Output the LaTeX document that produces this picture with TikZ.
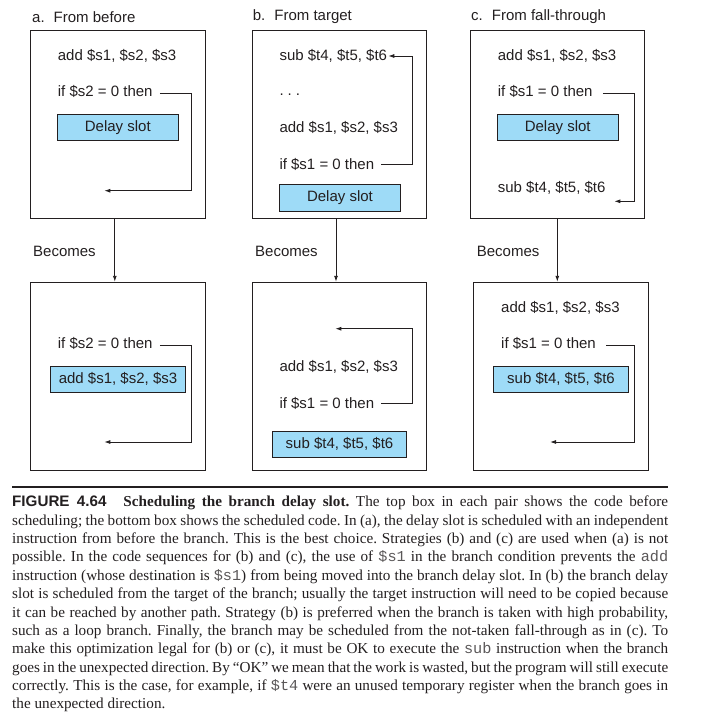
\documentclass[tikz,border=0pt]{standalone}
\usepackage{fontspec}
\setmainfont{Liberation Serif}
\setsansfont{Liberation Sans}
\setmonofont{Liberation Mono}
\usepackage{tikz}
\usetikzlibrary{arrows.meta}

\definecolor{ink}{HTML}{231F20}
\definecolor{slotblue}{RGB}{158,219,247}
\newcommand{\reg}[1]{{\color{ink!75}\texttt{#1}}}

\tikzset{
  code/.style={anchor=west, inner sep=0pt, text=ink, font=\sffamily\fontsize{15}{18}\selectfont},
  frame/.style={draw=ink, line width=1pt, inner sep=0pt},
  slot/.style={draw=ink, line width=1pt, fill=slotblue, inner sep=0pt, text=ink,
    font=\sffamily\fontsize{15}{18}\selectfont},
  back/.style={draw=ink, line width=0.9pt, -{Latex[length=6pt,width=4pt]}},
  rule/.style={draw=ink, line width=1.5pt},
}

\begin{document}
\begin{tikzpicture}[x=1pt, y=-1pt]
\useasboundingbox (0,0) rectangle (705,713);

  % a. From before
  \node[code] (a-title) at (32,16.7) {a.\hspace{9pt}From before}; %
  \node[frame, minimum width=175pt, minimum height=187.6pt] (a-top) at (117.8,124.5) {}; %
  \node[code] (a-add) at (57.7,56) {add \$s1, \$s2, \$s3}; %
  \node[code] (a-if) at (57.7,91.7) {if \$s2 = 0 then}; %
  \node[slot, minimum width=121pt, minimum height=26pt] (a-slot) at (117.8,127.3) {Delay slot}; %
  \coordinate (a-turn) at (191.7,190.7);
  \coordinate (a-ret) at (104.3,190.7);

  % b. From target
  \node[code] (b-title) at (252.7,16.7) {b.\hspace{9pt}From target}; %
  \node[frame, minimum width=174.4pt, minimum height=187.6pt] (b-top) at (339.5,124.5) {}; %
  \node[code] (b-sub) at (279.3,56) {sub \$t4, \$t5, \$t6}; %
  \node[code] (b-dots) at (279.3,95) {.\hspace{4pt}.\hspace{4pt}.}; %
  \node[code] (b-add) at (279.3,128.3) {add \$s1, \$s2, \$s3}; %
  \node[code] (b-if) at (279.3,164) {if \$s1 = 0 then}; %
  \node[slot, minimum width=121.4pt, minimum height=27pt] (b-slot) at (340,197.8) {Delay slot}; %
  \coordinate (b-turn) at (412.7,110);

  % c. From fall-through
  \node[code] (c-title) at (471,16.7) {c.\hspace{9pt}From fall-through}; %
  \node[frame, minimum width=174pt, minimum height=187.6pt] (c-top) at (557.3,124.5) {}; %
  \node[code] (c-add) at (497.7,56) {add \$s1, \$s2, \$s3}; %
  \node[code] (c-if) at (497.7,91.7) {if \$s1 = 0 then}; %
  \node[slot, minimum width=121.3pt, minimum height=26pt] (c-slot) at (557.7,127.3) {Delay slot}; %
  \node[code] (c-sub) at (497.7,187.7) {sub \$t4, \$t5, \$t6}; %
  \coordinate (c-turn) at (634,201.3);
  \coordinate (c-ret) at (614.3,201.3);

  % Becomes
  \node[code] (a-becomes) at (33,251.7) {Becomes}; %
  \node[code] (b-becomes) at (255,251.7) {Becomes}; %
  \node[code] (c-becomes) at (476.7,251.7) {Becomes}; %

  % scheduled code
  \node[frame, minimum width=175pt, minimum height=188pt] (a2-bot) at (117.8,376.3) {}; %
  \node[code] (a2-if) at (57.7,343.3) {if \$s2 = 0 then}; %
  \node[slot, minimum width=135.4pt, minimum height=26.3pt] (a2-slot) at (118,379.2) {add \$s1, \$s2, \$s3}; %
  \coordinate (a2-turn) at (191.7,442);
  \coordinate (a2-ret) at (104.3,442);

  \node[frame, minimum width=174.4pt, minimum height=188pt] (b2-bot) at (339.5,376.3) {}; %
  \node[code] (b2-add) at (279.3,366.7) {add \$s1, \$s2, \$s3}; %
  \node[code] (b2-if) at (279.3,403.3) {if \$s1 = 0 then}; %
  \node[slot, minimum width=134.4pt, minimum height=26pt] (b2-slot) at (339.5,444.3) {sub \$t4, \$t5, \$t6}; %
  \coordinate (b2-turn) at (412.7,370);
  \coordinate (b2-ret) at (335.3,328.7);

  \node[frame, minimum width=175pt, minimum height=188pt] (c2-bot) at (560.8,376.3) {}; %
  \node[code] (c2-add) at (501,307.7) {add \$s1, \$s2, \$s3}; %
  \node[code] (c2-if) at (501,343.3) {if \$s1 = 0 then}; %
  \node[slot, minimum width=135.4pt, minimum height=26.3pt] (c2-slot) at (561,379.2) {sub \$t4, \$t5, \$t6}; %
  \coordinate (c2-turn) at (634,442);
  \coordinate (c2-ret) at (550,442);

  % Branches
  \draw[back] ([xshift=7pt,yshift=-2pt]a-if.east) -| (a-turn) -- (a-ret); %
  \draw[back] ([xshift=7pt]b-if.east) -| (b-turn) |- ([xshift=1pt]b-sub.east); %
  \draw[back] ([xshift=10pt,yshift=-2pt]c-if.east) -| (c-turn) -- (c-ret); %
  \draw[back] ([xshift=7pt,yshift=-2pt]a2-if.east) -| (a2-turn) -- (a2-ret); %
  \draw[back] ([xshift=7pt]b2-if.east) -| (b2-turn) |- (b2-ret); %
  \draw[back] ([xshift=10pt,yshift=-2pt]c2-if.east) -| (c2-turn) -- (c2-ret); %

  % Becomes arrows
  \draw[back] ([xshift=-3pt]a-top.south) -- ([xshift=-3pt]a2-bot.north); %
  \draw[back] ([xshift=-3.5pt]b-top.south) -- ([xshift=-3.5pt]b2-bot.north); %
  \draw[back] (c-top.south) -- (c-top.south |- c2-bot.north); %

  % Caption
  \node[anchor=north west, inner sep=0pt, text width=656pt, align=justify, text=ink,
    font=\fontsize{15.2}{18.36}\selectfont] (caption) at (12,496) {%
    \frenchspacing\hyphenpenalty=10000 \exhyphenpenalty=10000
    {\sffamily\bfseries FIGURE 4.64}\hspace{17pt}{\bfseries Scheduling the branch delay slot.} The top box in each pair shows the code before\linebreak
    scheduling; the bottom box shows the scheduled code. In (a), the delay slot is scheduled with an independent\linebreak
    instruction from before the branch. This is the best choice. Strategies (b) and (c) are used when (a) is not\linebreak
    possible. In the code sequences for (b) and (c), the use of \reg{\$s1} in the branch condition prevents the \reg{add}\linebreak
    instruction (whose destination is \reg{\$s1}) from being moved into the branch delay slot. In (b) the branch delay\linebreak
    slot is scheduled from the target of the branch; usually the target instruction will need to be copied because\linebreak
    it can be reached by another path. Strategy (b) is preferred when the branch is taken with high probability,\linebreak
    such as a loop branch. Finally, the branch may be scheduled from the not-taken fall-through as in (c). To\linebreak
    make this optimization legal for (b) or (c), it must be OK to execute the \reg{sub} instruction when the branch\linebreak
    goes in the unexpected direction. By “OK” we mean that the work is wasted, but the program will still execute\linebreak
    correctly. This is the case, for example, if \reg{\$t4} were an unused temporary register when the branch goes in\linebreak
    the unexpected direction.}; %
  \draw[rule] ([yshift=9pt]caption.north west) -- ([yshift=9pt]caption.north east); %

\end{tikzpicture}
\end{document}
